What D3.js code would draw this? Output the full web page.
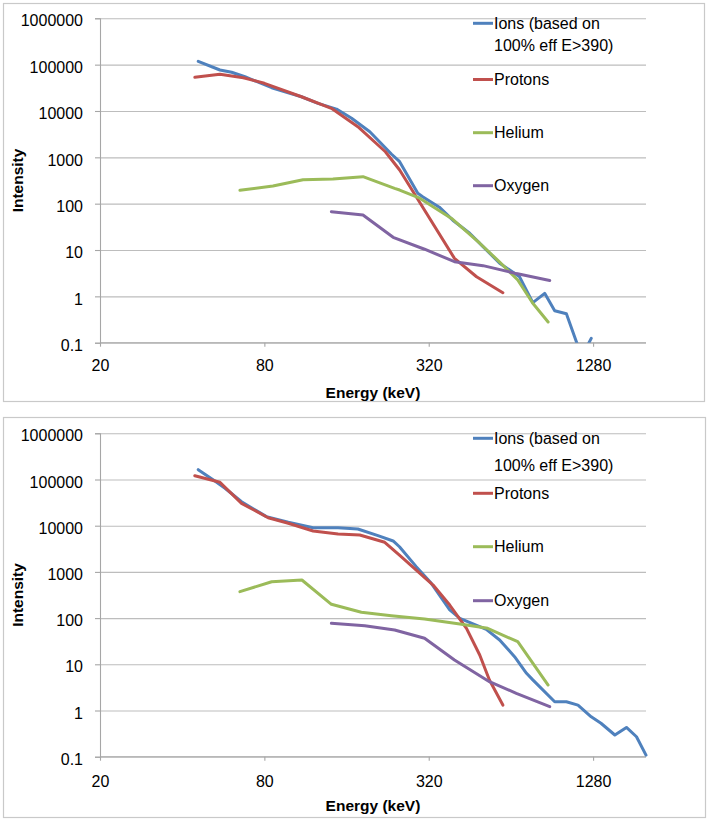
<!DOCTYPE html>
<html>
<head>
<meta charset="utf-8">
<script src="https://cdn.jsdelivr.net/npm/d3@7"></script>
<style>
  html, body { margin: 0; padding: 0; background: #fff; }
  svg { display: block; }
  text { font-family: "Liberation Sans", Arial, sans-serif; fill: #000; }
</style>
</head>
<body>
<svg id="chart" width="709" height="820"></svg>
<script>
// ---------------- DATA ----------------
const energyTicks = [20, 80, 320, 1280];
const energyLabels = ["20", "80", "320", "1280"];
const intensityTicks = [0.1, 1, 10, 100, 1000, 10000, 100000, 1000000];
const intensityLabels = ["0.1", "1", "10", "100", "1000", "10000", "100000", "1000000"];
const seriesNames = ["Ions (based on|100% eff E>390)", "Protons", "Helium", "Oxygen"];
const seriesColors = ["#4F81BD", "#C0504D", "#9BBB59", "#8064A2"];
const xTitle = "Energy (keV)";
const yTitle = "Intensity";

// Top panel: [energy keV, intensity]
const topIons = [[45.8,118000],[55,76600],[60.7,68400],[67.9,54900],[85.1,31800],[109.4,20300],[125.8,14600],[147,11000],[167,6950],[194.7,3570],[233.5,1180],[250.4,805],[291.8,167],[304,141],[350,84],[392,44],[452,23],[506,11.8],[582,5.2],[688,2.65],[770,0.73],[851,1.16],[926,0.49],[1022,0.42],[1163,0.05],[1260,0.124]];
const topProtons = [[44.5,53300],[55,61900],[67,52300],[80,39600],[109.4,20300],[140.8,11400],[176,4580],[222,1320],[250.4,532],[397.6,6.6],[479,2.65],[598,1.2]];
const topHelium = [[65.1,194],[86,240],[110.8,329],[142.6,340],[183.8,382],[240,214],[250.4,197],[296.5,131],[388,48],[492,14],[582,5.5],[678,2.25],[770,0.71],[876,0.28]];
const topOxygen = [[140.8,67],[183.8,57],[237,18.8],[309,10.4],[397.6,5.6],[506,4.6],[670,3.1],[888,2.2]];

// Bottom panel: [energy keV, intensity]
const botIons = [[45.8,163000],[52.7,92800],[57.4,64600],[66,33100],[81.4,15700],[97.9,11850],[120.7,9070],[149,9070],[176,8490],[208.6,6080],[237,4670],[250,3500],[288,1300],[327,566],[382,150],[416,99],[520,57],[582,33.6],[660,14.6],[730,6.4],[770,4.6],[926,1.55],[1022,1.55],[1127,1.31],[1260,0.73],[1368,0.53],[1538,0.295],[1696,0.43],[1846,0.27],[2000,0.108]];
const botProtons = [[44.5,120800],[55,86900],[66,30500],[82.6,14900],[97.9,11270],[120.7,7680],[149,6600],[178.9,6290],[220.8,4380],[250,2320],[332,520],[382,192],[440,60],[492,15.9],[534,4.57],[598,1.31]];
const botHelium = [[65.1,373],[85.1,613],[109.8,668],[140.8,199],[181.3,134],[233.5,113],[309,96],[416,74.5],[526,60],[678,30.8],[876,3.56]];
const botOxygen = [[140.8,77],[186.6,68.6],[240,55.3],[309,36.6],[397.6,12.4],[534,4.2],[670,2.36],[888,1.21]];

const energyDomain = [20, 2000];
const intensityDomain = [0.1, 1000000];

// ---------------- LAYOUT ----------------
const panels = [
  { id: "p1", box: [3, 3, 701, 398], top: 18.3, bottom: 342.7,
    series: [topIons, topProtons, topHelium, topOxygen],
    legendY: [23.3, 45, 79.5, 132.7, 185.7], xLabelDy: 23, xTitleY: 397.5, yTitleY: 180.5 },
  { id: "p2", box: [3, 417, 702, 400], top: 433.3, bottom: 756.7,
    series: [botIons, botProtons, botHelium, botOxygen],
    legendY: [438.3, 465, 493.3, 546.7, 600.7], xLabelDy: 25, xTitleY: 811, yTitleY: 595 }
];
const left = 100, right = 646;
const svg = d3.select("#chart");

const x = d3.scaleLog().domain(energyDomain).range([left, right]);

panels.forEach((p, pi) => {
  const g = svg.append("g");
  g.append("rect").attr("x", p.box[0] + 0.5).attr("y", p.box[1] + 0.5)
    .attr("width", p.box[2]).attr("height", p.box[3])
    .attr("fill", "#fff").attr("stroke", "#c9c9c9").attr("stroke-width", 1.2);

  const y = d3.scaleLog().domain(intensityDomain).range([p.bottom, p.top]);

  // gridlines
  g.append("g").attr("transform", `translate(${left},0)`)
    .call(d3.axisLeft(y).tickValues(intensityTicks).tickSize(-(right - left)).tickFormat(""))
    .call(s => s.select(".domain").remove())
    .call(s => s.selectAll("line").attr("stroke", "#bdbdbd").attr("stroke-width", 1.1));

  // y axis
  const ya = g.append("g").attr("transform", `translate(${left},0)`)
    .call(d3.axisLeft(y).tickValues(intensityTicks).tickSize(5).tickPadding(12)
      .tickFormat((d, i) => intensityLabels[intensityTicks.indexOf(d)]));
  ya.select(".domain").attr("stroke", "#a6a6a6").attr("stroke-width", 1.1);
  ya.selectAll(".tick line").attr("stroke", "#a6a6a6").attr("stroke-width", 1.1);
  ya.selectAll("text").attr("font-size", 16).attr("font-family", "Liberation Sans, Arial, sans-serif")
    .attr("dy", "0.48em").attr("fill", "#000");

  // x axis
  const xa = g.append("g").attr("transform", `translate(0,${p.bottom})`)
    .call(d3.axisBottom(x).tickValues(energyTicks).tickSize(4).tickPadding(p.xLabelDy - 9.7)
      .tickFormat(d => energyLabels[energyTicks.indexOf(d)]));
  xa.select(".domain").attr("stroke", "#a6a6a6").attr("stroke-width", 1.1)
    .attr("d", `M${left},0H${right}`);
  xa.selectAll(".tick line").attr("stroke", "#a6a6a6").attr("stroke-width", 1.1);
  xa.selectAll("text").attr("font-size", 16).attr("font-family", "Liberation Sans, Arial, sans-serif")
    .attr("fill", "#000");

  // titles
  g.append("text").attr("x", (left + right) / 2).attr("y", p.xTitleY)
    .attr("text-anchor", "middle").attr("font-size", 15.5).attr("font-weight", "bold").text(xTitle);
  g.append("text").attr("transform", `translate(23,${p.yTitleY}) rotate(-90)`)
    .attr("text-anchor", "middle").attr("font-size", 15.5).attr("font-weight", "bold").text(yTitle);

  // clip
  const clipId = "clip" + pi;
  svg.append("clipPath").attr("id", clipId).append("rect")
    .attr("x", left).attr("y", p.top - 2).attr("width", right - left + 3).attr("height", p.bottom - p.top + 2);

  const line = d3.line().x(d => x(d[0])).y(d => y(d[1]));
  const lg = g.append("g").attr("clip-path", `url(#${clipId})`);
  p.series.forEach((s, si) => {
    lg.append("path").datum(s).attr("d", line)
      .attr("fill", "none").attr("stroke", seriesColors[si]).attr("stroke-width", 3)
      .attr("stroke-linejoin", "round").attr("stroke-linecap", "round");
  });

  // legend
  const legX = 473;
  const rowIdx = [0, 2, 3, 4];
  seriesNames.forEach((name, si) => {
    const parts = name.split("|");
    const yy = p.legendY[rowIdx[si]];
    g.append("line").attr("x1", legX).attr("x2", legX + 20).attr("y1", yy).attr("y2", yy)
      .attr("stroke", seriesColors[si]).attr("stroke-width", 3);
    parts.forEach((t, k) => {
      g.append("text").attr("x", legX + 21).attr("y", p.legendY[rowIdx[si] + k])
        .attr("dy", "0.36em").attr("font-size", 16).text(t);
    });
  });
});
</script>
</body>
</html>
